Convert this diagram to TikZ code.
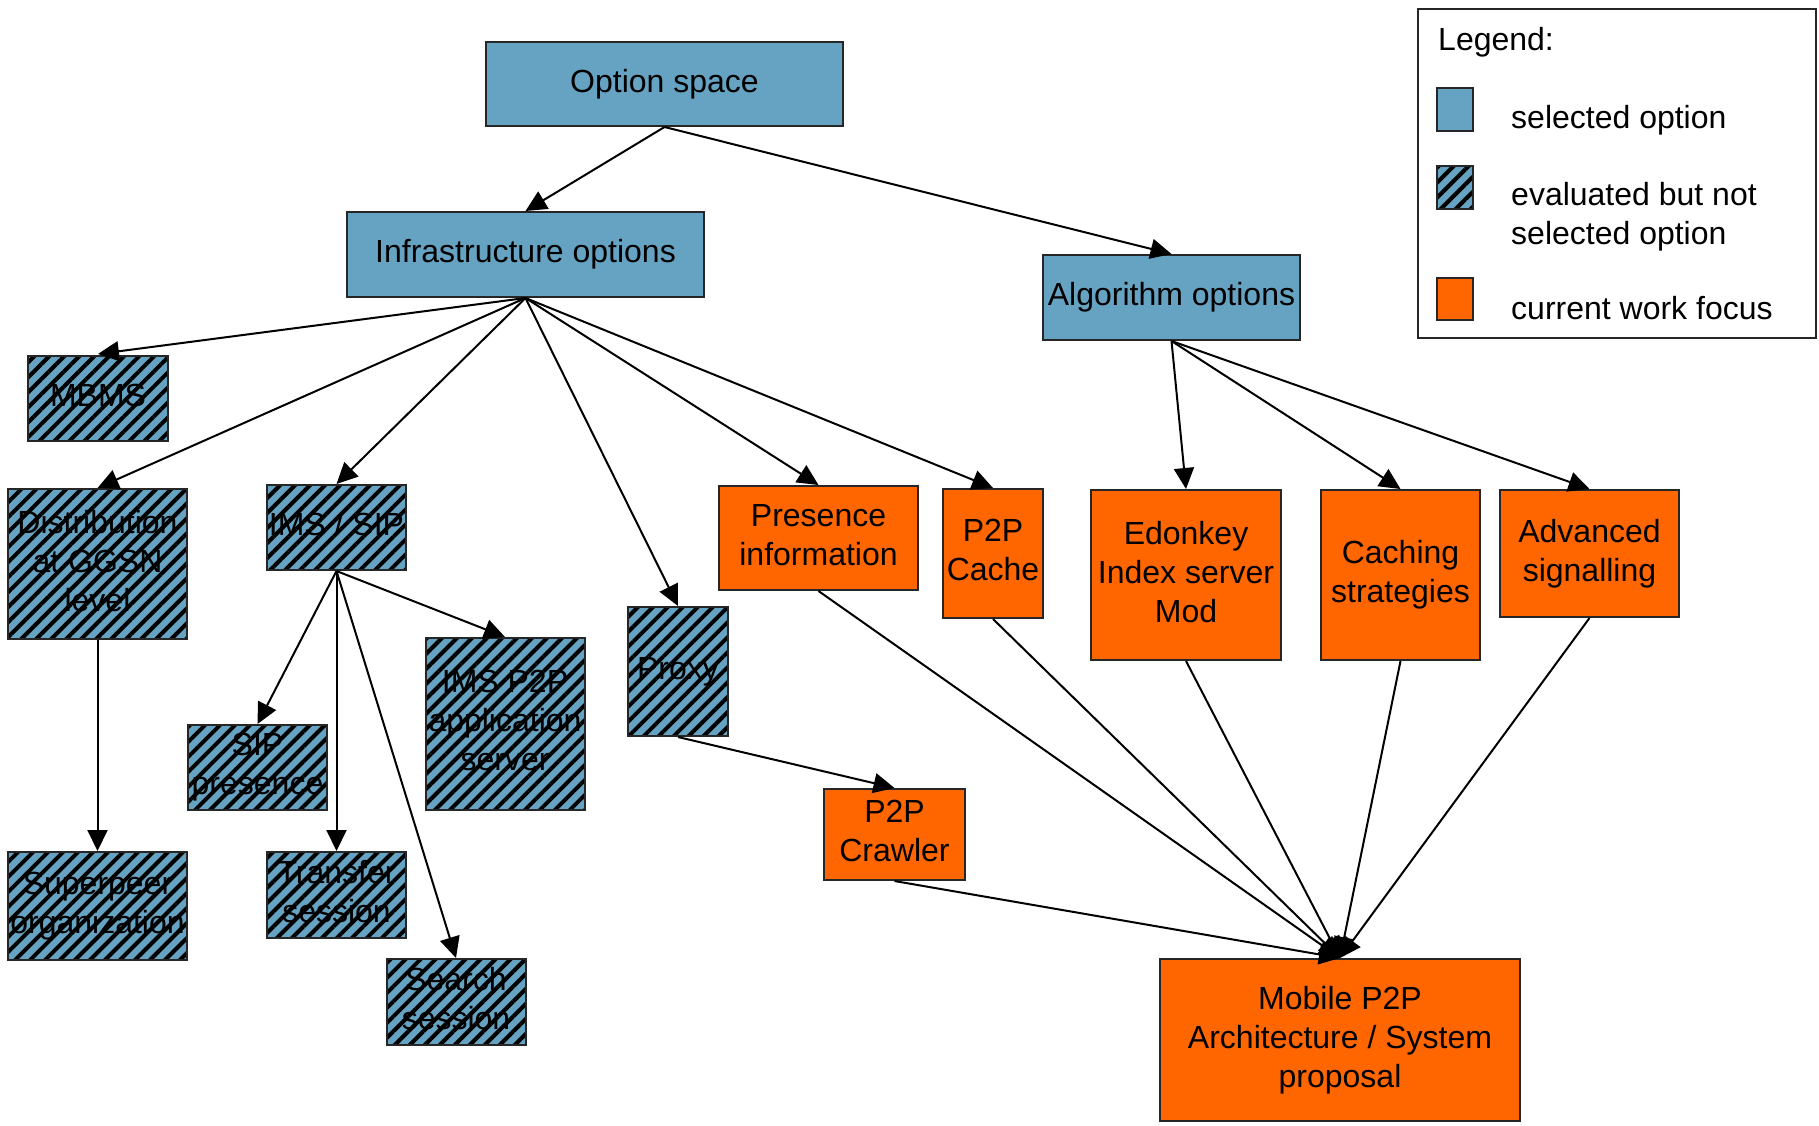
\documentclass[tikz,border=0pt]{standalone}
\usepackage{fontspec}
\setmainfont{Liberation Sans}
\usetikzlibrary{arrows.meta,patterns.meta}
\definecolor{selblue}{HTML}{66A3C2}
\definecolor{focusorange}{HTML}{FF6600}

\begin{document}
\begin{tikzpicture}[x=1pt,y=-1pt,
  box/.style={draw=black!85, line width=2pt, inner sep=0pt, align=center,
    font=\fontsize{32}{39}\selectfont,
    execute at begin node={\rule[-6.8pt]{0pt}{29pt}},
    execute at end node={\rule[-6.8pt]{0pt}{29pt}}},
  selected/.style={box, fill=selblue},
  evaluated/.style={box, preaction={fill=selblue},
    pattern={Lines[angle=45,distance=10.6pt,line width=4pt]}, pattern color=black},
  focus/.style={box, fill=focusorange},
  link/.style={-{Triangle[length=21pt,width=20pt]}, line width=2pt},
  legtext/.style={inner sep=0pt, font=\fontsize{32}{39}\selectfont},
]
\fill[white] (0,0) rectangle (1819,1125);
\useasboundingbox (0,0) rectangle (1819,1125);

% option tree
\node[selected, minimum width=357pt, minimum height=84pt] (opt) at (664.5,84) {Option space};
\node[selected, minimum width=357pt, minimum height=85pt] (infra) at (525.5,254.5) {Infrastructure options};
\node[selected, minimum width=257pt, minimum height=85pt] (algo) at (1171.5,297.5) {Algorithm options};

% infrastructure branch
\node[evaluated, minimum width=140pt, minimum height=85pt] (mbms) at (98,398.5) {MBMS};
\node[evaluated, minimum width=179pt, minimum height=150pt] (dist) at (97.5,564) {Distribution\\at GGSN\\level};
\node[evaluated, minimum width=139pt, minimum height=85pt] (ims) at (336.5,527.5) {IMS / SIP};
\node[evaluated, minimum width=159pt, minimum height=172pt] (imsapp) at (505,724) {IMS P2P\\application\\server};
\node[evaluated, minimum width=139pt, minimum height=85pt] (sippres) at (257.5,767.5) {SIP\\presence};
\node[evaluated, minimum width=179pt, minimum height=108pt] (superpeer) at (97.5,906) {Superpeer\\organization};
\node[evaluated, minimum width=139pt, minimum height=86pt] (transfer) at (336.5,895) {Transfer\\session};
\node[evaluated, minimum width=139pt, minimum height=86pt] (search) at (456,1002) {Search\\session};
\node[evaluated, minimum width=100pt, minimum height=129pt] (proxy) at (678,671.5) {Proxy};
\node[focus, minimum width=199pt, minimum height=104pt] (presence) at (818.5,538) {Presence\\information};
\node[focus, minimum width=100pt, minimum height=129pt] (cache) at (993,553.5) {P2P\\Cache};
\node[focus, minimum width=141pt, minimum height=91pt] (crawler) at (894.5,834.5) {P2P\\Crawler};

% algorithm branch
\node[focus, minimum width=190pt, minimum height=170pt] (edonkey) at (1186,575) {Edonkey\\Index server\\Mod};
\node[focus, minimum width=159pt, minimum height=170pt] (caching) at (1400.5,575) {Caching\\strategies};
\node[focus, minimum width=179pt, minimum height=127pt] (advanced) at (1589.5,553.5) {Advanced\\signalling};

% result
\node[focus, minimum width=360pt, minimum height=162pt] (mobile) at (1340,1040) {Mobile P2P\\Architecture / System\\proposal};

% connectors
\draw[link] (opt.south) -- (infra.north);
\draw[link] (opt.south) -- (algo.north);
\draw[link] (infra.south) -- (mbms.north);
\draw[link] (infra.south) -- (dist.north);
\draw[link] (infra.south) -- (ims.north);
\draw[link] (infra.south) -- (proxy.north);
\draw[link] (infra.south) -- (presence.north);
\draw[link] (infra.south) -- (cache.north);
\draw[link] (algo.south) -- (edonkey.north);
\draw[link] (algo.south) -- (caching.north);
\draw[link] (algo.south) -- (advanced.north);
\draw[link] (dist.south) -- (superpeer.north);
\draw[link] (ims.south) -- (sippres.north);
\draw[link] (ims.south) -- (transfer.north);
\draw[link] (ims.south) -- (search.north);
\draw[link] (ims.south) -- (imsapp.north);
\draw[link] (proxy.south) -- (crawler.north);
\draw[link] (presence.south) -- (mobile.north);
\draw[link] (cache.south) -- (mobile.north);
\draw[link] (edonkey.south) -- (mobile.north);
\draw[link] (caching.south) -- (mobile.north);
\draw[link] (advanced.south) -- (mobile.north);
\draw[link] (crawler.south) -- (mobile.north);

% legend
\node[draw=black!85, line width=2pt, minimum width=398pt, minimum height=329pt, inner sep=0pt] (legend) at (1616.5,173.5) {};
\node[legtext, anchor=base west] (legtitle) at (1438,50) {Legend:};
\node[selected, minimum width=36pt, minimum height=43pt] (legsel) at (1455,109.5) {};
\node[evaluated, minimum width=36pt, minimum height=43pt] (legeval) at (1455,187.5) {};
\node[focus, minimum width=36pt, minimum height=42pt] (legfocus) at (1455,299) {};
\node[legtext, anchor=base west] (legseltext) at (1511,128) {selected option};
\node[legtext, anchor=west, align=left] (legevaltext) at (1511,216.5) {evaluated but not\\selected option};
\node[legtext, anchor=base west] (legfocustext) at (1511,319) {current work focus};
\end{tikzpicture}
\end{document}
